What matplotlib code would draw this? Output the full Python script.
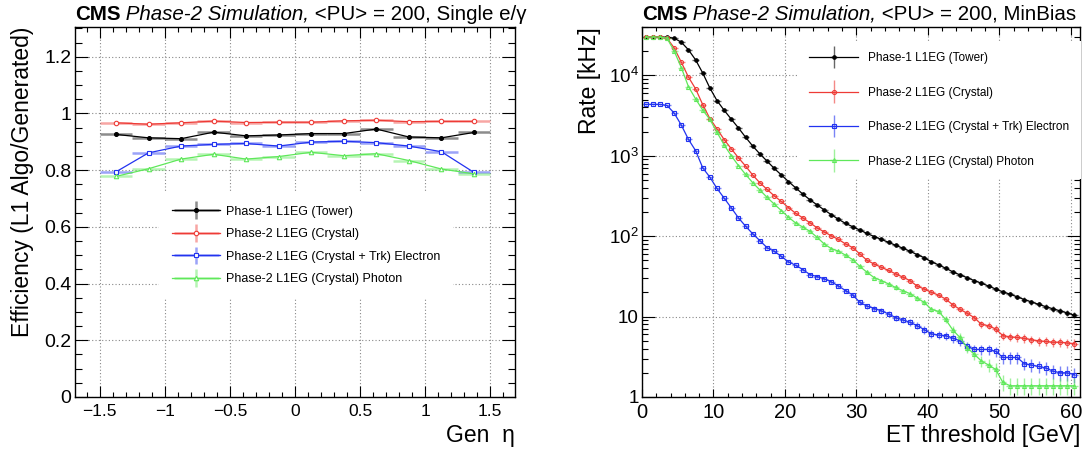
import numpy as np
import matplotlib
matplotlib.use("Agg")
import matplotlib.pyplot as plt
from matplotlib.ticker import MultipleLocator, LogLocator, FuncFormatter, NullFormatter
from matplotlib.container import ErrorbarContainer
from matplotlib.legend_handler import HandlerErrorbar

# ---------------------------------------------------------------- data
LABELS = ["Phase-1 L1EG (Tower)", "Phase-2 L1EG (Crystal)",
          "Phase-2 L1EG (Crystal + Trk) Electron", "Phase-2 L1EG (Crystal) Photon"]

# efficiency vs generated eta (12 bins of 0.25)
ETA = [-1.375, -1.125, -0.875, -0.625, -0.375, -0.125,
       0.125, 0.375, 0.625, 0.875, 1.125, 1.375]
ETA_HALF = 0.125
EFF_ERR = 0.003
EFF_TOWER = [0.926, 0.914, 0.911, 0.934, 0.921, 0.924, 0.929, 0.929, 0.945, 0.917, 0.914, 0.933]
EFF_CRYSTAL = [0.967, 0.962, 0.967, 0.973, 0.968, 0.969, 0.969, 0.974, 0.976, 0.971, 0.972, 0.972]
EFF_ELECTRON = [0.794, 0.861, 0.885, 0.891, 0.894, 0.885, 0.899, 0.902, 0.897, 0.885, 0.865, 0.792]
EFF_PHOTON = [0.778, 0.805, 0.839, 0.856, 0.839, 0.848, 0.863, 0.851, 0.858, 0.834, 0.804, 0.787]

# rate vs ET threshold (1 GeV bins, 0..61 GeV)
ET = np.arange(0, 61) + 0.5
ET_HALF = 0.5
RATE_PER_EVENT = 0.08      # kHz per selected event -> statistical error bars
RATE_TOWER = [30000, 30000, 30000, 29800, 29000, 25900, 20800, 15600, 10700, 6960,
              4850, 3680, 2850, 2220, 1700, 1320, 1055, 858, 698, 577,
              478, 400, 334, 284, 245, 212, 185, 162, 144, 131,
              119, 108, 99, 91, 84, 77, 71, 65, 59, 54,
              48, 44, 40, 36, 33, 30.5, 28, 26, 24, 22,
              20.3, 19, 17.6, 16.3, 15.2, 14.2, 13.3, 12.5, 11.8, 11.1, 10.4]
RATE_CRYSTAL = [30000, 30000, 30000, 29000, 22000, 14600, 9530, 6800, 4330, 2900,
                2160, 1590, 1220, 944, 744, 575, 461, 382, 318, 270,
                227, 193, 169, 147, 127, 113, 101, 91, 80, 72,
                60, 50, 45, 41, 37.5, 34, 31, 28, 24, 22,
                20, 18.5, 16.5, 14, 12.3, 11, 9.7, 8.0, 7.7, 7.0,
                5.8, 5.6, 5.5, 5.35, 5.15, 5.0, 4.9, 4.8, 4.8, 4.7, 4.6]
RATE_ELECTRON = [4360, 4360, 4360, 4230, 3400, 2410, 1600, 1160, 708, 542,
                 392, 297, 225, 169, 133, 107, 88, 72, 65, 56,
                 48, 43.5, 38.5, 33.3, 31.5, 29.5, 27, 24, 21, 18.5,
                 15, 13.5, 12.6, 11.8, 10.8, 9.7, 9.1, 8.5, 7.7, 6.9,
                 6.1, 5.9, 5.8, 5.4, 5.0, 4.3, 3.9, 3.9, 3.9, 3.7,
                 3.1, 3.1, 3.1, 2.6, 2.5, 2.4, 2.3, 2.1, 2.0, 2.0, 1.9]
RATE_PHOTON = [30000, 30000, 30000, 29000, 20100, 12500, 7250, 5100, 3700, 2830,
               1960, 1360, 1000, 755, 586, 462, 375, 304, 251, 208,
               172, 146, 130, 115, 97, 80, 70, 65, 58, 51,
               42, 35.5, 30.5, 28, 25.5, 23, 21, 19.3, 17, 15,
               12.3, 11.6, 9.2, 6.8, 5.5, 4.1, 3.4, 2.8, 2.5, 2.2,
               1.52, 1.38, 1.38, 1.38, 1.38, 1.38, 1.38, 1.38, 1.38, 1.38, 1.38]

# ---------------------------------------------------------------- style
COLORS = ["#000000", "#ee3b36", "#2233f0", "#5fe85a"]
MARKERS = ["o", "o", "s", "^"]
FILLED = [True, False, False, False]

plt.rcParams.update({
    "font.family": ["Liberation Sans", "DejaVu Sans"],
    "mathtext.default": "regular",
    "axes.linewidth": 1.0,
})


def fmt_num(v, pos):
    return ("%g" % v).replace("-", "\u2212")


def fmt_log(v, pos):
    if np.isclose(v, 1):
        return "1"
    if np.isclose(v, 10):
        return "10"
    return r"$10^{%d}$" % int(round(np.log10(v)))


def add_title(ax, tail):
    t1 = ax.text(0.0, 1.019, "CMS", transform=ax.transAxes, fontsize=14.8,
                 fontweight="bold", ha="left", va="baseline")
    t2 = ax.annotate(" Phase-2 Simulation,", xy=(1, 0), xycoords=t1, fontsize=14.8,
                     style="italic", ha="left", va="bottom")
    ax.annotate(tail, xy=(1, 0), xycoords=t2, fontsize=14.8, ha="left", va="bottom")


def style_axes(ax):
    ax.set_axisbelow(True)
    ax.grid(True, which="major", ls=(0, (1, 2)), color="#888888", lw=0.8)
    ax.tick_params(which="both", direction="in", top=True, right=True, width=0.8)


fig = plt.figure(figsize=(10.85, 4.54), dpi=100)
ax1 = fig.add_axes([0.0691, 0.1256, 0.4055, 0.8150])
ax2 = fig.add_axes([0.5917, 0.1256, 0.4037, 0.8150])

# ---------------------------------------------------------------- left: efficiency
handles = []
for lab, eff, c, m, f in zip(LABELS, [EFF_TOWER, EFF_CRYSTAL, EFF_ELECTRON, EFF_PHOTON],
                             COLORS, MARKERS, FILLED):
    eb = ax1.errorbar(ETA, eff, xerr=ETA_HALF, yerr=EFF_ERR, fmt="-", marker=m,
                      color=c, lw=0.9, ms=2.8 if f else 3.2,
                      mfc=c if f else "white", mec=c, mew=0.8,
                      elinewidth=1.8, capsize=0, label=lab)
    for bl in eb[2]:
        bl.set_alpha(0.45)
    handles.append(eb)

style_axes(ax1)
ax1.set_xlim(-1.69, 1.69)
ax1.set_ylim(0, 1.305)
ax1.xaxis.set_major_locator(MultipleLocator(0.5))
ax1.xaxis.set_minor_locator(MultipleLocator(0.1))
ax1.yaxis.set_major_locator(MultipleLocator(0.2))
ax1.yaxis.set_minor_locator(MultipleLocator(0.05))
ax1.xaxis.set_major_formatter(FuncFormatter(fmt_num))
ax1.yaxis.set_major_formatter(FuncFormatter(fmt_num))
ax1.tick_params(axis="y", which="major", length=9.5, labelsize=14, pad=2.5)
ax1.tick_params(axis="y", which="minor", length=4.7)
ax1.tick_params(axis="x", which="major", length=7.6, labelsize=12.5, pad=5)
ax1.tick_params(axis="x", which="minor", length=3.4)
ax1.set_ylabel("Efficiency (L1 Algo/Generated)", fontsize=16.5, loc="top")
ax1.yaxis.set_label_coords(-0.093, 1.0)
ax1.set_xlabel("Gen  \u03b7", fontsize=16.5, loc="right")
ax1.xaxis.set_label_coords(1.0, -0.072)
add_title(ax1, " <PU> = 200, Single e/\u03b3")

ax1.legend(handles=handles, loc="upper left", bbox_to_anchor=(0.192, 0.551),
           fontsize=9, frameon=True, facecolor="white", edgecolor="none",
           framealpha=1, fancybox=False, borderpad=1.0, labelspacing=0.85,
           handlelength=3.85, handletextpad=0.5, borderaxespad=0,
           handler_map={ErrorbarContainer: HandlerErrorbar(xerr_size=1.8, yerr_size=0.7)})

# ---------------------------------------------------------------- right: rate
handles = []
for lab, rate, c, m, f in zip(LABELS, [RATE_TOWER, RATE_CRYSTAL, RATE_ELECTRON, RATE_PHOTON],
                              COLORS, MARKERS, FILLED):
    rate = np.asarray(rate, dtype=float)
    err = np.sqrt(rate * RATE_PER_EVENT)
    eb = ax2.errorbar(ET, rate, xerr=ET_HALF, yerr=err, fmt="-", marker=m, color=c,
                      lw=0.9, ms=2.5 if f else 2.9, mfc=c if f else "none", mec=c,
                      mew=0.8, elinewidth=1.0, capsize=0, label=lab)
    for bl in eb[2]:
        bl.set_alpha(0.6)
    handles.append(eb)

style_axes(ax2)
ax2.set_yscale("log")
ax2.set_xlim(0, 61.3)
ax2.set_ylim(1, 4.0e4)
ax2.xaxis.set_major_locator(MultipleLocator(10))
ax2.xaxis.set_minor_locator(MultipleLocator(2))
ax2.xaxis.set_major_formatter(FuncFormatter(fmt_num))
ax2.yaxis.set_major_locator(LogLocator(base=10, numticks=10))
ax2.yaxis.set_minor_locator(LogLocator(base=10, subs=np.arange(2, 10), numticks=20))
ax2.yaxis.set_major_formatter(FuncFormatter(fmt_log))
ax2.yaxis.set_minor_formatter(NullFormatter())
ax2.tick_params(axis="y", which="major", length=9.4, labelsize=13.5, pad=2.5)
ax2.tick_params(axis="y", which="minor", length=4.5)
ax2.tick_params(axis="x", which="major", length=6.0, labelsize=14.5, pad=4)
ax2.tick_params(axis="x", which="minor", length=3.0)
ax2.set_ylabel("Rate [kHz]", fontsize=16.5, loc="top")
ax2.yaxis.set_label_coords(-0.094, 1.0)
ax2.set_xlabel("ET threshold [GeV]", fontsize=16.5, loc="right")
ax2.xaxis.set_label_coords(1.0, -0.072)
add_title(ax2, " <PU> = 200, MinBias")

ax2.legend(handles=handles, loc="upper left", bbox_to_anchor=(0.356, 0.962),
           fontsize=8.5, frameon=True, facecolor="white", edgecolor="none",
           framealpha=1, fancybox=False, borderpad=0.95, labelspacing=1.9,
           handlelength=4.15, handletextpad=0.85, borderaxespad=0,
           handler_map={ErrorbarContainer: HandlerErrorbar(xerr_size=0.3, yerr_size=0.95)})

fig.savefig("out.png", dpi=100)
